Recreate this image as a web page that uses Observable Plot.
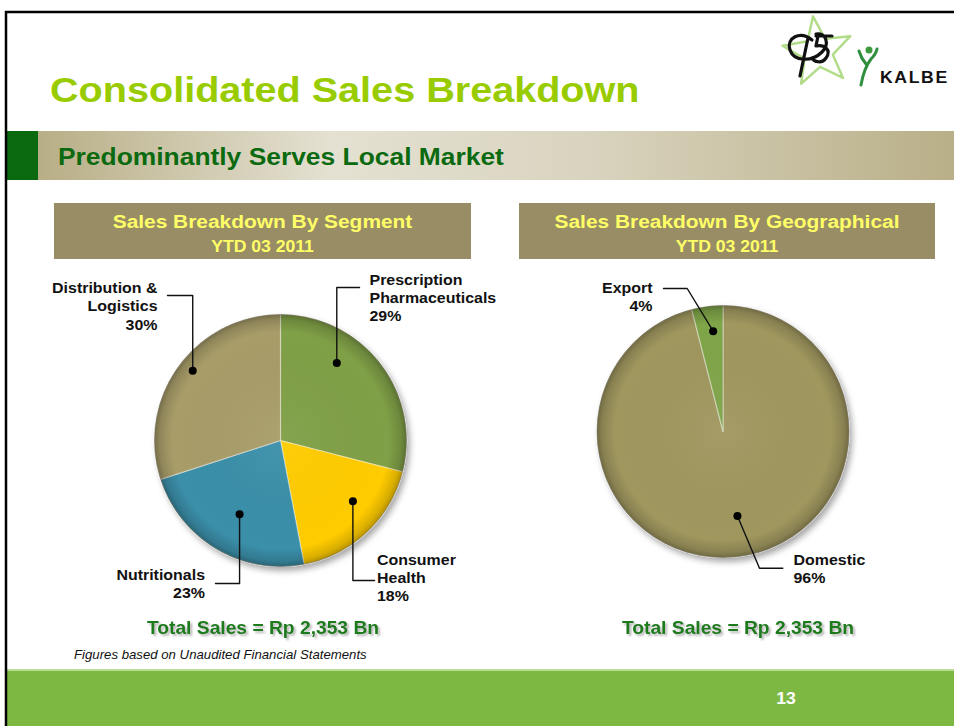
<!DOCTYPE html>
<html><head><meta charset="utf-8">
<script src="https://cdn.jsdelivr.net/npm/d3@7"></script>
<script src="https://cdn.jsdelivr.net/npm/@observablehq/plot@0.6"></script>
<style>
html,body{margin:0;padding:0;background:#fff;}
#slide{position:relative;width:954px;height:726px;overflow:hidden;font-family:"Liberation Sans",Arial,sans-serif;}
#bg,#chart{position:absolute;left:0;top:0;}
</style></head><body>
<div id="slide"><svg id="bg" width="954" height="726"></svg><div id="chart"></div></div>
<script>
// ---------------- data ----------------
const segmentCategories = ["Prescription Pharmaceuticals", "Consumer Health", "Nutritionals", "Distribution & Logistics"];
const segmentShares = [29, 18, 23, 30];
const geoCategories = ["Domestic", "Export"];
const geoShares = [96, 4];
const totalSalesBn = [2353, 2353];
const chartTitles = ["Sales Breakdown By Segment", "Sales Breakdown By Geographical"];
const periodLabel = "YTD 03 2011";
const slideTitle = "Consolidated Sales Breakdown";
const slideSubtitle = "Predominantly Serves Local Market";
const footNote = "Figures based on Unaudited Financial Statements";
const pageNumber = "13";

// ---------------- styles / layout ----------------
const colors = {
  "Prescription Pharmaceuticals": "#80a047",
  "Consumer Health": "#ffcc00",
  "Nutritionals": "#3b8fa9",
  "Distribution & Logistics": "#a89d69",
  "Domestic": "#a0975f",
  "Export": "#7fa548"
};
const PIES = [{cx: 280, cy: 440, r: 126}, {cx: 722.5, cy: 431, r: 126}];
const SX = 1.1; // horizontal text stretch of the original slide
const FONT = '"Liberation Sans", Arial, sans-serif';
const labelLayout = {
  "Prescription Pharmaceuticals": {pie: 0, lines: ["Prescription", "Pharmaceuticals"], angle: 36, rf: 0.76, elbow: [null, -153], end: [79, -153], text: [89, -169], anchor: "start"},
  "Consumer Health": {pie: 0, lines: ["Consumer", "Health"], angle: 130, rf: 0.75, elbow: [null, 140], end: [94, 140], text: [96.5, 111], anchor: "start"},
  "Nutritionals": {pie: 0, lines: ["Nutritionals"], angle: 209, rf: 0.67, elbow: [null, 143], end: [-65, 143], text: [-75.5, 126.5], anchor: "end"},
  "Distribution & Logistics": {pie: 0, lines: ["Distribution &", "Logistics"], angle: 308.5, rf: 0.89, elbow: [null, -145], end: [-113, -145], text: [-123, -160.5], anchor: "end"},
  "Export": {pie: 1, lines: ["Export"], angle: 354.4, rf: 0.8, elbow: [-35.8, -143], end: [-59.5, -143], text: [-70.5, -151.5], anchor: "end"},
  "Domestic": {pie: 1, lines: ["Domestic"], angle: 170.3, rf: 0.68, elbow: [36.5, 136.7], end: [59.8, 136.7], text: [70.5, 120], anchor: "start"}
};
const totalsLayout = [{x: 262.5, y: 621}, {x: 737.5, y: 621}];

// ---------------- background slide ----------------
(function drawBackground() {
  const star = d3.range(10).map(i => {
    const a = (i * 36 - 8) * Math.PI / 180, rr = i % 2 ? 15 : 36;
    return [818 + rr * Math.sin(a), 52 - rr * Math.cos(a)];
  });
  const t = (x, y, size, str, fill, extra = "", anchor = "start") =>
    `<text transform="translate(${x},${y}) scale(${SX},1)" font-size="${size}" fill="${fill}" text-anchor="${anchor}" font-family='${FONT}' ${extra}>${str}</text>`;
  document.getElementById("bg").innerHTML = `
  <defs>
    <linearGradient id="band" x1="0" x2="1" y1="0" y2="0">
      <stop offset="0" stop-color="#b8ae86"/><stop offset="0.32" stop-color="#e4e1d2"/>
      <stop offset="0.6" stop-color="#d9d4bf"/><stop offset="1" stop-color="#b9af88"/>
    </linearGradient>
  </defs>
  <rect x="0" y="0" width="954" height="726" fill="#fff"/>
  <rect x="38" y="131" width="916" height="49" fill="url(#band)"/>
  <rect x="7" y="131" width="31" height="49" fill="#0b6a10"/>
  <rect x="7" y="669" width="947" height="57" fill="#7db843"/>
  <rect x="7" y="669" width="947" height="2" fill="#b8dc96"/>
  <path d="M6 726 V12 H954" fill="none" stroke="#000" stroke-width="2.5"/>
  <polygon points="${star.map(p => p.join(",")).join(" ")}" fill="none" stroke="#b3dc8a" stroke-width="2.5" stroke-linejoin="round"/>
  <path d="M812 40 C800 30 786 38 790 50 C794 62 812 62 822 52 C830 44 826 32 816 34 M808 38 L800 76 M816 36 L832 36 M818 36 L816 46 C824 44 832 50 826 58 C822 64 814 62 812 58"
        fill="none" stroke="#111" stroke-width="3.2" stroke-linecap="round" stroke-linejoin="round"/>
  <circle cx="869" cy="50" r="3.5" fill="#3c9a3c"/>
  <path d="M861 85 Q864 68 871 59 M866 64 Q861 58 859 51 M871 59 Q876 54 877 49" fill="none" stroke="#2f8f3f" stroke-width="3" stroke-linecap="round"/>
  ${t(880, 83, 16, "KALBE", "#111", 'font-weight="bold" letter-spacing="1.5"')}
  ${t(50, 102, 36, slideTitle, "#99cc00", 'font-weight="bold"')}
  ${t(58, 165, 24, slideSubtitle, "#0b6a10", 'font-weight="bold"')}
  <rect x="54" y="203" width="417" height="56" fill="#998d66"/>
  <rect x="519" y="203" width="416" height="56" fill="#998d66"/>
  ${t(262.5, 227.5, 19, chartTitles[0], "#ffff66", 'font-weight="bold"', "middle")}
  ${t(262.5, 251.5, 16, periodLabel, "#ffff66", 'font-weight="bold"', "middle")}
  ${t(727, 227.5, 19, chartTitles[1], "#ffff66", 'font-weight="bold"', "middle")}
  ${t(727, 251.5, 16, periodLabel, "#ffff66", 'font-weight="bold"', "middle")}
  ${t(74, 659, 12, footNote, "#111", 'font-style="italic"')}
  ${t(786, 704, 16, pageNumber, "#fff", 'font-weight="bold"', "middle")}
  `;
})();

// ---------------- pie geometry ----------------
function pieSlices(cats, shares, pie) {
  const total = d3.sum(shares);
  let acc = 0;
  const pts = [];
  cats.forEach((c, i) => {
    const a0 = acc / total * 2 * Math.PI;
    acc += shares[i];
    const a1 = acc / total * 2 * Math.PI;
    pts.push({cat: c, x: pie.cx, y: pie.cy});
    const n = Math.max(2, Math.ceil((a1 - a0) / (Math.PI / 180)));
    for (let k = 0; k <= n; k++) {
      const a = a0 + (a1 - a0) * k / n;
      pts.push({cat: c, x: pie.cx + pie.r * Math.sin(a), y: pie.cy - pie.r * Math.cos(a)});
    }
  });
  return pts;
}
const slicePts = [
  ...pieSlices(segmentCategories, segmentShares, PIES[0]),
  ...pieSlices(geoCategories, geoShares, PIES[1])
];

const shareOf = {};
segmentCategories.forEach((c, i) => shareOf[c] = segmentShares[i]);
geoCategories.forEach((c, i) => shareOf[c] = geoShares[i]);

const leaders = [], dots = [], labels = [];
Object.entries(labelLayout).forEach(([cat, L]) => {
  const p = PIES[L.pie];
  const a = L.angle * Math.PI / 180;
  const dot = {cat, x: p.cx + p.r * L.rf * Math.sin(a), y: p.cy - p.r * L.rf * Math.cos(a)};
  const elbow = {cat, x: L.elbow[0] == null ? dot.x : p.cx + L.elbow[0], y: p.cy + L.elbow[1]};
  const end = {cat, x: p.cx + L.end[0], y: p.cy + L.end[1]};
  leaders.push(dot, elbow, end);
  dots.push(dot);
  labels.push({cat, anchor: L.anchor, x: p.cx + L.text[0], y: p.cy + L.text[1],
    text: [...L.lines, `${shareOf[cat]}%`].join("\n")});
});
const totals = totalSalesBn.map((v, i) => ({...totalsLayout[i], text: `Total Sales = Rp ${d3.format(",")(v)} Bn`}));

const allCats = [...segmentCategories, ...geoCategories];

const labelStyle = {x: "x", y: "y", text: "text", lineAnchor: "top", fontSize: 14.5, fontWeight: "bold", fill: "#111", lineHeight: 1.27};

const svg = Plot.plot({
  width: 954, height: 726, margin: 0,
  x: {domain: [0, 954], range: [0, 954], axis: null},
  y: {domain: [0, 726], range: [0, 726], axis: null},
  color: {domain: allCats, range: allCats.map(c => colors[c])},
  style: {background: "transparent", fontFamily: FONT, overflow: "visible"},
  marks: [
    Plot.line(slicePts, {x: "x", y: "y", z: "cat", fill: "cat", stroke: "rgba(255,255,255,0.4)", strokeWidth: 1.2, curve: "linear-closed"}),
    Plot.dot(PIES, {x: "cx", y: "cy", r: PIES[0].r, fill: "url(#rimShade)", stroke: "rgba(60,50,20,0.35)", strokeWidth: 1}),
    Plot.line(leaders, {x: "x", y: "y", z: "cat", stroke: "#111", strokeWidth: 1.4}),
    Plot.dot(dots, {x: "x", y: "y", r: 4, fill: "#000"}),
    Plot.text(labels.filter(d => d.anchor === "start"), {...labelStyle, textAnchor: "start"}),
    Plot.text(labels.filter(d => d.anchor === "end"), {...labelStyle, textAnchor: "end"}),
    Plot.text(totals, {x: "x", y: "y", text: "text", lineAnchor: "top", textAnchor: "middle", fontSize: 17.5, fontWeight: "bold", fill: "#1e7b1e"})
  ]
});

svg.insertAdjacentHTML("afterbegin", `<defs>
  <radialGradient id="rimShade" cx="0.5" cy="0.5" r="0.5">
    <stop offset="0" stop-color="#fff" stop-opacity="0.05"/>
    <stop offset="0.86" stop-color="#000" stop-opacity="0"/>
    <stop offset="0.96" stop-color="#000" stop-opacity="0.15"/>
    <stop offset="1" stop-color="#000" stop-opacity="0.3"/>
  </radialGradient>
  <filter id="pieShadow" x="-20%" y="-20%" width="140%" height="140%">
    <feDropShadow dx="3" dy="4" stdDeviation="3" flood-color="#000" flood-opacity="0.35"/>
  </filter>
  <filter id="textShadow" x="-10%" y="-30%" width="120%" height="160%">
    <feDropShadow dx="2" dy="2" stdDeviation="1.3" flood-color="#777" flood-opacity="0.55"/>
  </filter>
</defs>`);
const groups = svg.querySelectorAll(":scope > g");
if (groups[0]) groups[0].setAttribute("filter", "url(#pieShadow)");
if (groups[6]) groups[6].setAttribute("filter", "url(#textShadow)");
svg.querySelectorAll("text").forEach(el => {
  const tr = el.getAttribute("transform");
  if (tr) el.setAttribute("transform", tr + ` scale(${SX},1)`);
  else {
    const x = +el.getAttribute("x") || 0, y = +el.getAttribute("y") || 0;
    el.removeAttribute("x"); el.removeAttribute("y");
    el.setAttribute("transform", `translate(${x},${y}) scale(${SX},1)`);
  }
});
document.getElementById("chart").appendChild(svg);
</script>
</body></html>
